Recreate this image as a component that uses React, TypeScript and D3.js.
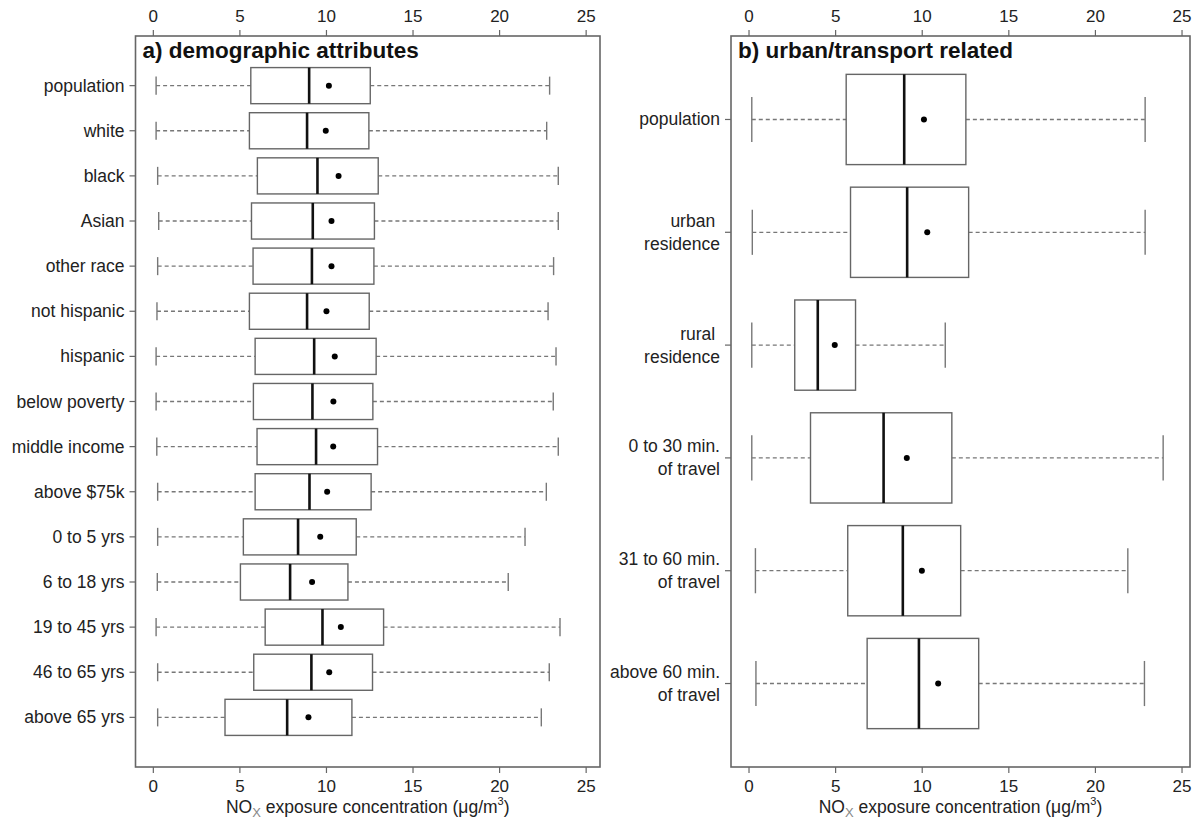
import React from "react";
import * as d3 from "d3";

const categoriesA = [
  "population", "white", "black", "Asian", "other race", "not hispanic", "hispanic",
  "below poverty", "middle income", "above $75k", "0 to 5 yrs", "6 to 18 yrs",
  "19 to 45 yrs", "46 to 65 yrs", "above 65 yrs",
];
const lowA = [0.16, 0.16, 0.25, 0.31, 0.25, 0.21, 0.16, 0.16, 0.2, 0.25, 0.25, 0.23, 0.16, 0.25, 0.25];
const q1A = [5.63, 5.55, 6.01, 5.67, 5.76, 5.55, 5.88, 5.78, 5.99, 5.88, 5.2, 5.03, 6.46, 5.8, 4.14];
const medA = [9.0, 8.88, 9.48, 9.21, 9.16, 8.88, 9.29, 9.19, 9.4, 9.02, 8.36, 7.9, 9.77, 9.13, 7.73];
const meanA = [10.14, 9.96, 10.7, 10.29, 10.29, 10.0, 10.48, 10.4, 10.39, 10.04, 9.64, 9.17, 10.83, 10.16, 8.96];
const q3A = [12.53, 12.45, 12.99, 12.77, 12.74, 12.47, 12.87, 12.68, 12.95, 12.58, 11.72, 11.24, 13.3, 12.66, 11.47];
const highA = [22.89, 22.72, 23.39, 23.39, 23.12, 22.8, 23.26, 23.1, 23.39, 22.7, 21.47, 20.5, 23.49, 22.87, 22.41];

const categoriesB = [
  "population", "urban \nresidence", "rural \nresidence", "0 to 30 min.\nof travel",
  "31 to 60 min.\nof travel", "above 60 min.\nof travel",
];
const lowB = [0.16, 0.19, 0.16, 0.16, 0.37, 0.4];
const q1B = [5.61, 5.86, 2.64, 3.55, 5.7, 6.82];
const medB = [8.96, 9.13, 3.97, 7.77, 8.88, 9.81];
const meanB = [10.1, 10.29, 4.95, 9.11, 9.98, 10.92];
const q3B = [12.52, 12.68, 6.15, 11.71, 12.22, 13.26];
const highB = [22.87, 22.87, 11.33, 23.91, 21.87, 22.83];

const xTicks = [0, 5, 10, 15, 20, 25];
const titleA = "a) demographic attributes";
const titleB = "b) urban/transport related";

const FONT = "'Liberation Sans', Arial, sans-serif";

type PanelProps = {
  left: number; right: number; xDomain: [number, number];
  cats: string[]; low: number[]; q1: number[]; med: number[]; mean: number[]; q3: number[]; high: number[];
  title: string;
};

function Panel(p: PanelProps) {
  const top = 36, bottom = 767;
  const n = p.cats.length;
  const x = d3.scaleLinear().domain(p.xDomain).range([p.left, p.right]);
  const pad = 0.04 * n;
  const y = d3.scaleLinear().domain([0.5 - pad, n + 0.5 + pad]).range([top, bottom]);
  const unit = y(1) - y(0);
  const boxH = 0.4 * unit;
  const capH = 0.2 * unit;
  const cx = (p.left + p.right) / 2;
  return (
    <g fontFamily={FONT}>
      <rect x={p.left} y={top} width={p.right - p.left} height={bottom - top} fill="none" stroke="#666" strokeWidth={1.6} />
      {xTicks.map((t) => (
        <g key={"t" + t}>
          <line x1={x(t)} x2={x(t)} y1={top} y2={top - 6} stroke="#666" strokeWidth={1.2} />
          <text x={x(t)} y={22} textAnchor="middle" fontSize={17} fill="#222">{t}</text>
          <line x1={x(t)} x2={x(t)} y1={bottom} y2={bottom + 6} stroke="#666" strokeWidth={1.2} />
          <text x={x(t)} y={792} textAnchor="middle" fontSize={17} fill="#222">{t}</text>
        </g>
      ))}
      <text x={p.left + 7} y={58} fontSize={22.5} fontWeight="bold" fill="#111">{p.title}</text>
      {p.cats.map((c, i) => {
        const yc = y(i + 1);
        const lines = c.split("\n");
        const lh = 23;
        const y0 = yc - ((lines.length - 1) * lh) / 2 + 6;
        return (
          <g key={"c" + i}>
            <line x1={p.left} x2={p.left - 6} y1={yc} y2={yc} stroke="#666" strokeWidth={1.2} />
            <text textAnchor="end" fontSize={17.5} fill="#222" style={{ whiteSpace: "pre" }}>
              {lines.map((l, k) => (
                <tspan key={k} x={p.left - 11} y={y0 + k * lh}>{l}</tspan>
              ))}
            </text>
            <line x1={x(p.low[i])} x2={x(p.q1[i])} y1={yc} y2={yc} stroke="#777" strokeWidth={1.3} strokeDasharray="4,3" />
            <line x1={x(p.q3[i])} x2={x(p.high[i])} y1={yc} y2={yc} stroke="#777" strokeWidth={1.3} strokeDasharray="4,3" />
            <line x1={x(p.low[i])} x2={x(p.low[i])} y1={yc - capH} y2={yc + capH} stroke="#777" strokeWidth={1.4} />
            <line x1={x(p.high[i])} x2={x(p.high[i])} y1={yc - capH} y2={yc + capH} stroke="#777" strokeWidth={1.4} />
            <rect x={x(p.q1[i])} y={yc - boxH} width={x(p.q3[i]) - x(p.q1[i])} height={2 * boxH} fill="#fff" stroke="#666" strokeWidth={1.4} />
            <line x1={x(p.med[i])} x2={x(p.med[i])} y1={yc - boxH} y2={yc + boxH} stroke="#111" strokeWidth={2.6} />
            <circle cx={x(p.mean[i])} cy={yc} r={3} fill="#000" />
          </g>
        );
      })}
      <text x={cx} y={813} textAnchor="middle" fontSize={17.5} fill="#222">
        <tspan>NO</tspan>
        <tspan dy={4} fontSize={13} fill="#888">X</tspan>
        <tspan dy={-4}> exposure concentration (μg/m</tspan>
        <tspan dy={-8} fontSize={11}>3</tspan>
        <tspan dy={8}>)</tspan>
      </text>
    </g>
  );
}

export default function App() {
  return (
    <svg width={1193} height={820} style={{ position: "absolute", left: 0, top: 0, background: "#fff" }}>
      <rect x={0} y={0} width={1193} height={820} fill="#fff" />
      <Panel left={135.5} right={600} xDomain={[-1.03, 25.8]} cats={categoriesA}
        low={lowA} q1={q1A} med={medA} mean={meanA} q3={q3A} high={highA} title={titleA} />
      <Panel left={731} right={1190} xDomain={[-1.04, 25.46]} cats={categoriesB}
        low={lowB} q1={q1B} med={medB} mean={meanB} q3={q3B} high={highB} title={titleB} />
    </svg>
  );
}
